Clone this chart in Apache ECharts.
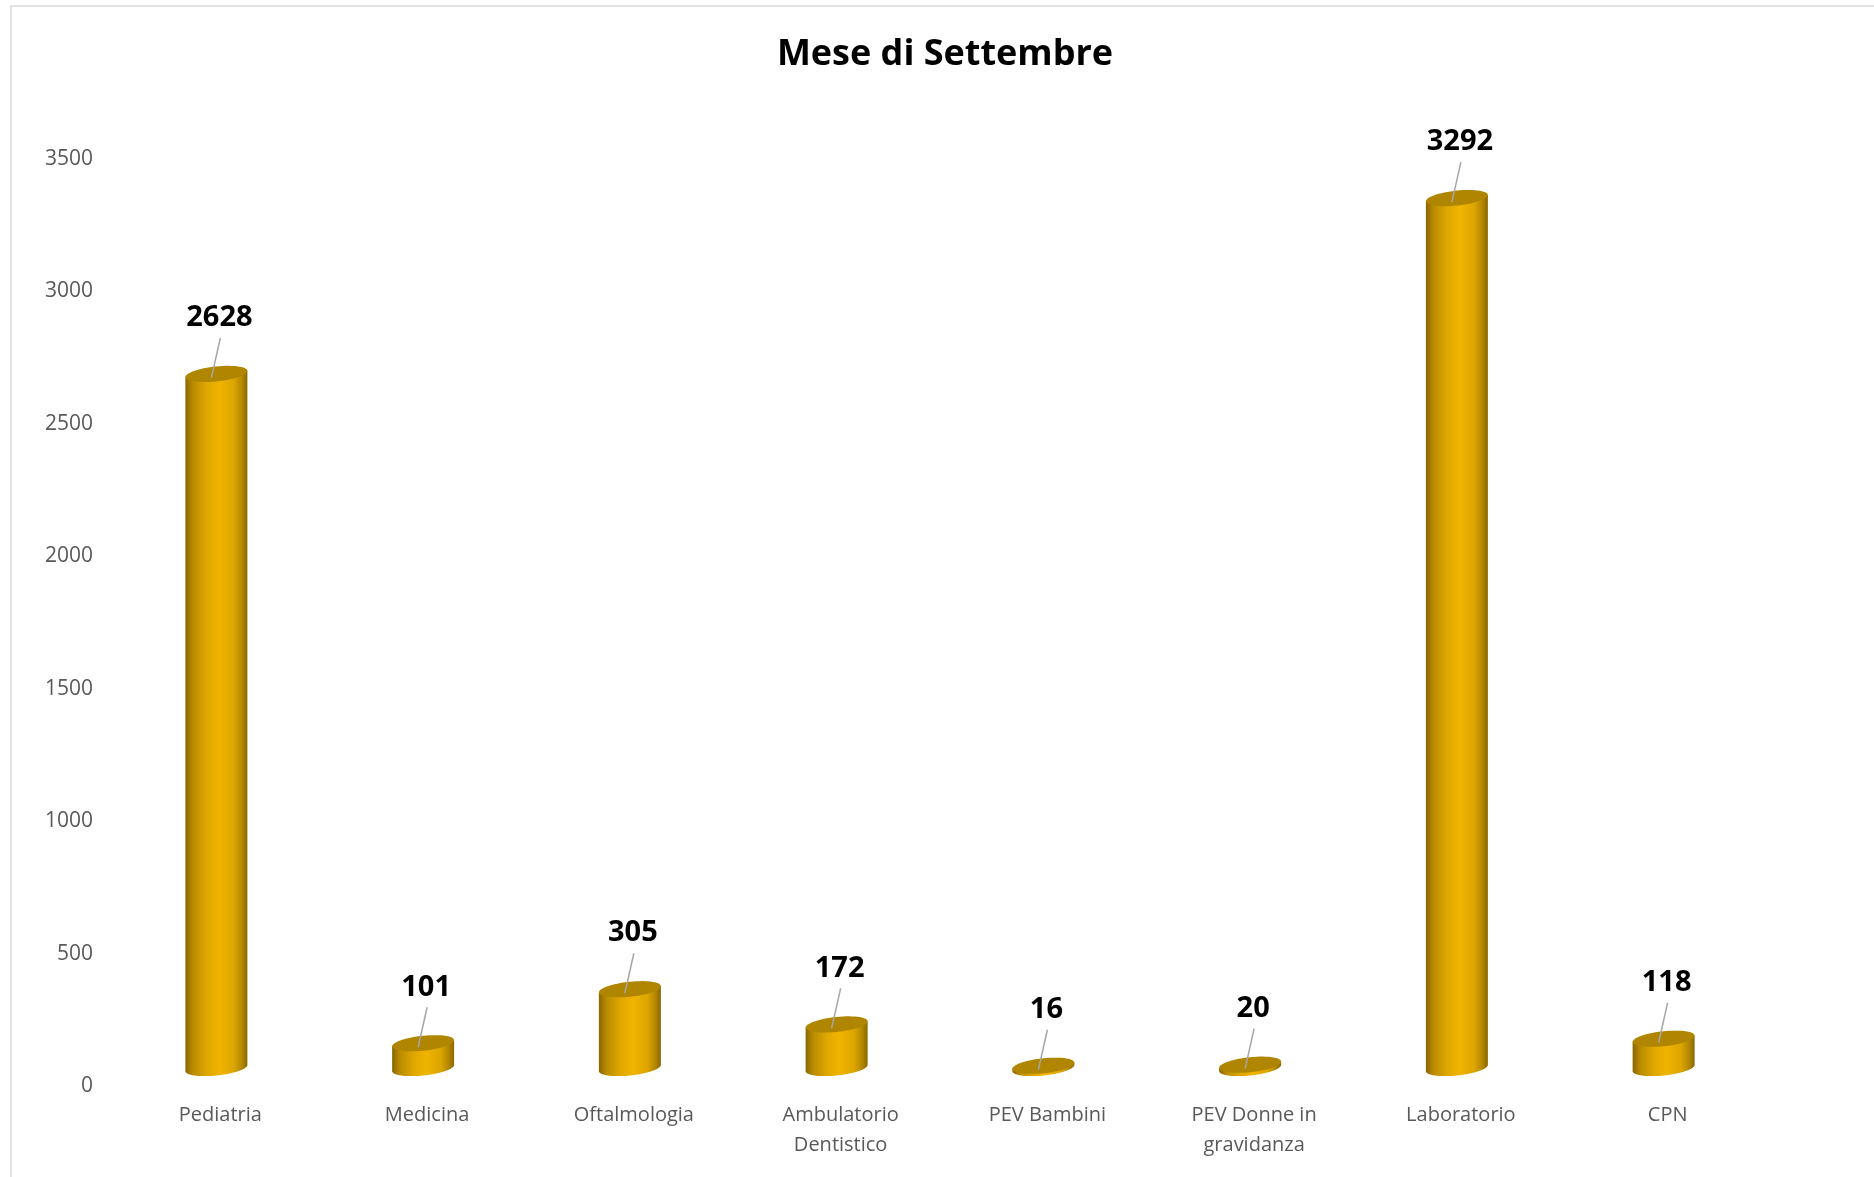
<!DOCTYPE html>
<html>
<head>
<meta charset="utf-8">
<script src="https://cdn.jsdelivr.net/npm/echarts@6/dist/echarts.min.js"></script>
<style>
html,body{margin:0;padding:0;background:#fff;}
#chart{width:1874px;height:1177px;}
</style>
</head>
<body>
<div id="chart"></div>
<script>
const chartTitle = 'Mese di Settembre';
const categories = ['Pediatria', 'Medicina', 'Oftalmologia', 'Ambulatorio\nDentistico', 'PEV Bambini', 'PEV Donne in\ngravidanza', 'Laboratorio', 'CPN'];
const values = [2628, 101, 305, 172, 16, 20, 3292, 118];
const yTicks = [0, 500, 1000, 1500, 2000, 2500, 3000, 3500];

const FONT = '"Open Sans", "Noto Sans", sans-serif';
const chart = echarts.init(document.getElementById('chart'));

const SHIFT = 16;      // 3D depth offset of the cylinders
const BAR_W = 62;
const RY = 7.5;
const K = 0.1;         // shear of the elliptical caps

function capPoints(cx, cy, hw, from, to, n) {
  const pts = [];
  for (let i = 0; i <= n; i++) {
    const t = from + (to - from) * i / n;
    const dx = hw * Math.cos(t);
    pts.push([cx + dx, cy + RY * Math.sin(t) - K * dx]);
  }
  return pts;
}

function renderItem(params, api) {
  const idx = api.value(0);
  const v = api.value(1);
  const base = api.coord([idx, 0]);
  const top = api.coord([idx, v]);
  const cx = base[0] - 4;
  const yb = base[1] - SHIFT - 2;
  const yt = top[1] - SHIFT;
  const hw = BAR_W / 2;
  const bodyGrad = new echarts.graphic.LinearGradient(0, 0, 1, 0, [
    {offset: 0, color: '#8a6500'},
    {offset: 0.12, color: '#b88c00'},
    {offset: 0.35, color: '#e0a800'},
    {offset: 0.55, color: '#f0b400'},
    {offset: 0.78, color: '#dca600'},
    {offset: 0.92, color: '#b08400'},
    {offset: 1, color: '#8a6700'}
  ]);
  const body = [[cx - hw, yt + K * hw]]
    .concat(capPoints(cx, yb, hw, Math.PI, 0, 40))
    .concat([[cx + hw, yt - K * hw]]);
  const topCap = capPoints(cx, yt, hw, 0, Math.PI * 2, 60);
  const labelY = yt - 56;
  return {
    type: 'group',
    children: [
      {
        type: 'polygon',
        shape: {points: body},
        style: {fill: bodyGrad}
      },
      {
        type: 'polygon',
        shape: {points: topCap},
        style: {fill: '#b08500'}
      },
      {
        type: 'line',
        shape: {x1: cx + 4, y1: labelY + 20, x2: cx - 5, y2: yt + 4},
        style: {stroke: '#a6a6a6', lineWidth: 1.5}
      },
      {
        type: 'text',
        x: cx + 3, y: labelY,
        style: {
          text: String(v),
          fill: '#000000',
          font: 'bold 29px ' + FONT,
          align: 'center',
          verticalAlign: 'middle'
        }
      }
    ]
  };
}

const option = {
  backgroundColor: '#ffffff',
  animation: false,
  title: {
    text: chartTitle,
    left: 940,
    textAlign: 'center',
    top: 32,
    textStyle: {fontFamily: FONT, fontWeight: 'bold', fontSize: 36, color: '#000000'}
  },
  graphic: [{
    type: 'rect',
    shape: {x: 11, y: 6, width: 1900, height: 1200},
    style: {fill: 'none', stroke: '#d9d9d9', lineWidth: 1.5},
    silent: true
  }],
  grid: {left: 117, right: 103, top: 159, bottom: 91, containLabel: false},
  xAxis: {
    type: 'category',
    data: categories,
    axisLine: {show: false},
    axisTick: {show: false},
    axisLabel: {
      interval: 0,
      margin: 14,
      fontFamily: FONT,
      fontSize: 20,
      lineHeight: 30,
      color: '#595959'
    }
  },
  yAxis: {
    type: 'value',
    min: 0,
    max: 3500,
    interval: 500,
    axisLine: {show: false},
    axisTick: {show: false},
    splitLine: {show: false},
    axisLabel: {
      margin: 24,
      fontFamily: FONT,
      fontSize: 21,
      color: '#595959',
      formatter: function (v) { return yTicks.indexOf(v) >= 0 ? String(v) : ''; }
    }
  },
  series: [{
    type: 'custom',
    renderItem: renderItem,
    data: values.map(function (v, i) { return [i, v]; }),
    encode: {x: 0, y: 1}
  }]
};
chart.setOption(option);
</script>
</body>
</html>
